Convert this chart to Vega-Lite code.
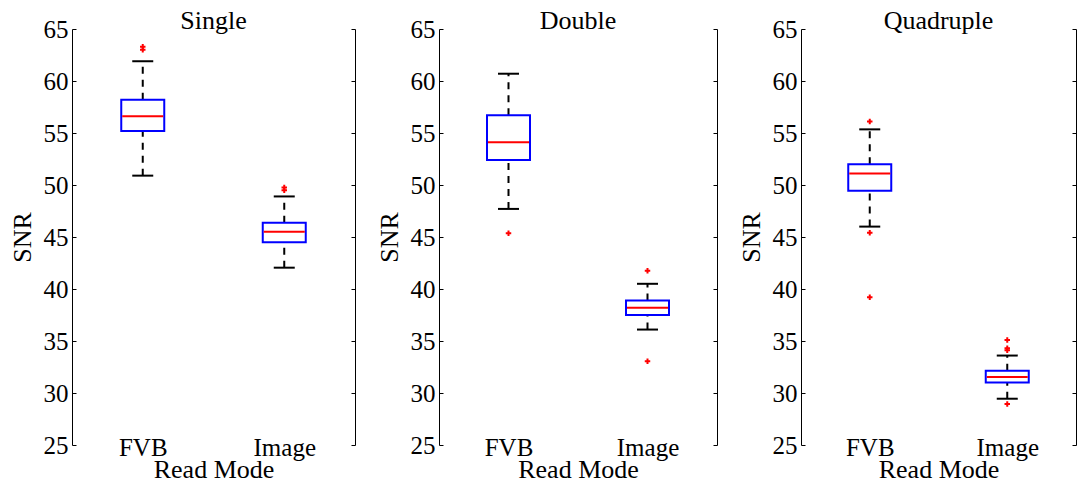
{
  "$schema": "https://vega.github.io/schema/vega-lite/v6.json",
  "background": "white",
  "padding": {"left": 9, "top": 8, "right": 2, "bottom": 0},
  "bounds": "flush",
  "spacing": 84,
  "config": {
    "view": {"stroke": null},
    "font": "Liberation Serif",
    "style": {
      "guide-label": {"font": "Liberation Serif", "fontSize": 25, "fill": "black"},
      "guide-title": {"font": "Liberation Serif", "fontSize": 26, "fontWeight": "normal", "fill": "black"}
    },
    "axis": {
      "labelFont": "Liberation Serif",
      "titleFont": "Liberation Serif",
      "labelFontSize": 25,
      "titleFontSize": 26,
      "titleFontWeight": "normal",
      "labelColor": "black",
      "titleColor": "black",
      "domainColor": "black",
      "tickColor": "black",
      "grid": false
    },
    "title": {
      "font": "Liberation Serif",
      "fontSize": 26,
      "fontWeight": "normal",
      "color": "black",
      "baseline": "alphabetic",
      "offset": -17
    }
  },
  "datasets": {
    "snr": [
      {"panel": "Single", "mode": "FVB", "lo": 50.9, "q1": 55.2, "med": 56.6, "q3": 58.2, "hi": 61.9},
      {"panel": "Single", "mode": "Image", "lo": 42.05, "q1": 44.5, "med": 45.5, "q3": 46.36, "hi": 48.9},
      {"panel": "Double", "mode": "FVB", "lo": 47.7, "q1": 52.4, "med": 54.1, "q3": 56.7, "hi": 60.7},
      {"panel": "Double", "mode": "Image", "lo": 36.1, "q1": 37.5, "med": 38.2, "q3": 38.9, "hi": 40.5},
      {"panel": "Quadruple", "mode": "FVB", "lo": 46.0, "q1": 49.45, "med": 51.1, "q3": 52.0, "hi": 55.35},
      {"panel": "Quadruple", "mode": "Image", "lo": 29.45, "q1": 31.0, "med": 31.55, "q3": 32.15, "hi": 33.6},
      {"panel": "Single", "mode": "FVB", "out": 63.3},
      {"panel": "Single", "mode": "FVB", "out": 63.0},
      {"panel": "Single", "mode": "Image", "out": 49.75},
      {"panel": "Single", "mode": "Image", "out": 49.5},
      {"panel": "Double", "mode": "FVB", "out": 45.35},
      {"panel": "Double", "mode": "Image", "out": 41.75},
      {"panel": "Double", "mode": "Image", "out": 33.05},
      {"panel": "Quadruple", "mode": "FVB", "out": 56.1},
      {"panel": "Quadruple", "mode": "FVB", "out": 45.4},
      {"panel": "Quadruple", "mode": "FVB", "out": 39.2},
      {"panel": "Quadruple", "mode": "Image", "out": 35.1},
      {"panel": "Quadruple", "mode": "Image", "out": 34.3},
      {"panel": "Quadruple", "mode": "Image", "out": 34.1},
      {"panel": "Quadruple", "mode": "Image", "out": 28.95}
    ]
  },
  "hconcat": [
    {
      "title": "Single",
      "width": 283,
      "height": 416,
      "data": {"name": "snr"},
      "transform": [{"filter": "datum.panel === 'Single'"}],
      "encoding": {
        "x": {"field": "mode", "type": "nominal", "scale": {"type": "point", "padding": 0.5, "domain": ["FVB", "Image"]},
              "axis": {"orient": "bottom", "domain": false, "ticks": false, "labelAngle": 0, "labelPadding": -10, "titlePadding": -4, "title": "Read Mode", "labelFont": "Liberation Serif", "labelFontSize": 25}}
      },
      "layer": [
        {"transform": [{"filter": {"field": "q1", "valid": true}}], "mark": {"type": "rule", "color": "black", "strokeWidth": 2, "strokeDash": [7, 6], "opacity": 1},
         "encoding": {"y": {"field": "lo", "type": "quantitative", "scale": {"domain": [25, 65], "nice": false, "zero": false},
                            "axis": {"orient": "left", "title": "SNR", "values": [25, 30, 35, 40, 45, 50, 55, 60, 65], "tickSize": -4, "labelPadding": 8, "titlePadding": 8, "labelFont": "Liberation Serif", "labelFontSize": 25}},
                      "y2": {"field": "q1"}}},
        {"transform": [{"filter": {"field": "q1", "valid": true}}], "mark": {"type": "rule", "color": "black", "strokeWidth": 2, "strokeDash": [7, 6], "opacity": 1},
         "encoding": {"y": {"field": "q3", "type": "quantitative", "axis": null}, "y2": {"field": "hi"}}},
        {"transform": [{"filter": {"field": "q1", "valid": true}}], "mark": {"type": "tick", "color": "black", "thickness": 2, "size": 21, "opacity": 1},
         "encoding": {"y": {"field": "lo", "type": "quantitative", "axis": null}}},
        {"transform": [{"filter": {"field": "q1", "valid": true}}], "mark": {"type": "tick", "color": "black", "thickness": 2, "size": 21, "opacity": 1},
         "encoding": {"y": {"field": "hi", "type": "quantitative", "axis": null}}},
        {"transform": [{"filter": {"field": "q1", "valid": true}}], "mark": {"type": "bar", "width": 43, "fillOpacity": 0, "stroke": "#0000ff", "strokeWidth": 2, "strokeOpacity": 1},
         "encoding": {"y": {"field": "q1", "type": "quantitative", "axis": null}, "y2": {"field": "q3"}}},
        {"transform": [{"filter": {"field": "q1", "valid": true}}], "mark": {"type": "tick", "color": "#ff0000", "thickness": 2, "size": 41, "opacity": 1},
         "encoding": {"y": {"field": "med", "type": "quantitative",
                            "axis": {"orient": "right", "title": null, "labels": false, "values": [25, 30, 35, 40, 45, 50, 55, 60, 65], "tickSize": -4}}}},
        {"transform": [{"filter": {"field": "out", "valid": true}}], "mark": {"type": "point", "shape": "M-1,0L1,0M0,-1L0,1", "filled": false, "color": "#ff0000", "strokeWidth": 2, "size": 30, "opacity": 1},
         "encoding": {"y": {"field": "out", "type": "quantitative", "axis": null}}}
      ]
    },
    {
      "title": "Double",
      "width": 278,
      "height": 416,
      "data": {"name": "snr"},
      "transform": [{"filter": "datum.panel === 'Double'"}],
      "encoding": {
        "x": {"field": "mode", "type": "nominal", "scale": {"type": "point", "padding": 0.5, "domain": ["FVB", "Image"]},
              "axis": {"orient": "bottom", "domain": false, "ticks": false, "labelAngle": 0, "labelPadding": -10, "titlePadding": -4, "title": "Read Mode", "labelFont": "Liberation Serif", "labelFontSize": 25}}
      },
      "layer": [
        {"transform": [{"filter": {"field": "q1", "valid": true}}], "mark": {"type": "rule", "color": "black", "strokeWidth": 2, "strokeDash": [7, 6], "opacity": 1},
         "encoding": {"y": {"field": "lo", "type": "quantitative", "scale": {"domain": [25, 65], "nice": false, "zero": false},
                            "axis": {"orient": "left", "title": "SNR", "values": [25, 30, 35, 40, 45, 50, 55, 60, 65], "tickSize": -4, "labelPadding": 8, "titlePadding": 8, "labelFont": "Liberation Serif", "labelFontSize": 25}},
                      "y2": {"field": "q1"}}},
        {"transform": [{"filter": {"field": "q1", "valid": true}}], "mark": {"type": "rule", "color": "black", "strokeWidth": 2, "strokeDash": [7, 6], "opacity": 1},
         "encoding": {"y": {"field": "q3", "type": "quantitative", "axis": null}, "y2": {"field": "hi"}}},
        {"transform": [{"filter": {"field": "q1", "valid": true}}], "mark": {"type": "tick", "color": "black", "thickness": 2, "size": 21, "opacity": 1},
         "encoding": {"y": {"field": "lo", "type": "quantitative", "axis": null}}},
        {"transform": [{"filter": {"field": "q1", "valid": true}}], "mark": {"type": "tick", "color": "black", "thickness": 2, "size": 21, "opacity": 1},
         "encoding": {"y": {"field": "hi", "type": "quantitative", "axis": null}}},
        {"transform": [{"filter": {"field": "q1", "valid": true}}], "mark": {"type": "bar", "width": 43, "fillOpacity": 0, "stroke": "#0000ff", "strokeWidth": 2, "strokeOpacity": 1},
         "encoding": {"y": {"field": "q1", "type": "quantitative", "axis": null}, "y2": {"field": "q3"}}},
        {"transform": [{"filter": {"field": "q1", "valid": true}}], "mark": {"type": "tick", "color": "#ff0000", "thickness": 2, "size": 41, "opacity": 1},
         "encoding": {"y": {"field": "med", "type": "quantitative",
                            "axis": {"orient": "right", "title": null, "labels": false, "values": [25, 30, 35, 40, 45, 50, 55, 60, 65], "tickSize": -4}}}},
        {"transform": [{"filter": {"field": "out", "valid": true}}], "mark": {"type": "point", "shape": "M-1,0L1,0M0,-1L0,1", "filled": false, "color": "#ff0000", "strokeWidth": 2, "size": 30, "opacity": 1},
         "encoding": {"y": {"field": "out", "type": "quantitative", "axis": null}}}
      ]
    },
    {
      "title": "Quadruple",
      "width": 275,
      "height": 416,
      "data": {"name": "snr"},
      "transform": [{"filter": "datum.panel === 'Quadruple'"}],
      "encoding": {
        "x": {"field": "mode", "type": "nominal", "scale": {"type": "point", "padding": 0.5, "domain": ["FVB", "Image"]},
              "axis": {"orient": "bottom", "domain": false, "ticks": false, "labelAngle": 0, "labelPadding": -10, "titlePadding": -4, "title": "Read Mode", "labelFont": "Liberation Serif", "labelFontSize": 25}}
      },
      "layer": [
        {"transform": [{"filter": {"field": "q1", "valid": true}}], "mark": {"type": "rule", "color": "black", "strokeWidth": 2, "strokeDash": [7, 6], "opacity": 1},
         "encoding": {"y": {"field": "lo", "type": "quantitative", "scale": {"domain": [25, 65], "nice": false, "zero": false},
                            "axis": {"orient": "left", "title": "SNR", "values": [25, 30, 35, 40, 45, 50, 55, 60, 65], "tickSize": -4, "labelPadding": 8, "titlePadding": 8, "labelFont": "Liberation Serif", "labelFontSize": 25}},
                      "y2": {"field": "q1"}}},
        {"transform": [{"filter": {"field": "q1", "valid": true}}], "mark": {"type": "rule", "color": "black", "strokeWidth": 2, "strokeDash": [7, 6], "opacity": 1},
         "encoding": {"y": {"field": "q3", "type": "quantitative", "axis": null}, "y2": {"field": "hi"}}},
        {"transform": [{"filter": {"field": "q1", "valid": true}}], "mark": {"type": "tick", "color": "black", "thickness": 2, "size": 21, "opacity": 1},
         "encoding": {"y": {"field": "lo", "type": "quantitative", "axis": null}}},
        {"transform": [{"filter": {"field": "q1", "valid": true}}], "mark": {"type": "tick", "color": "black", "thickness": 2, "size": 21, "opacity": 1},
         "encoding": {"y": {"field": "hi", "type": "quantitative", "axis": null}}},
        {"transform": [{"filter": {"field": "q1", "valid": true}}], "mark": {"type": "bar", "width": 43, "fillOpacity": 0, "stroke": "#0000ff", "strokeWidth": 2, "strokeOpacity": 1},
         "encoding": {"y": {"field": "q1", "type": "quantitative", "axis": null}, "y2": {"field": "q3"}}},
        {"transform": [{"filter": {"field": "q1", "valid": true}}], "mark": {"type": "tick", "color": "#ff0000", "thickness": 2, "size": 41, "opacity": 1},
         "encoding": {"y": {"field": "med", "type": "quantitative",
                            "axis": {"orient": "right", "title": null, "labels": false, "values": [25, 30, 35, 40, 45, 50, 55, 60, 65], "tickSize": -4}}}},
        {"transform": [{"filter": {"field": "out", "valid": true}}], "mark": {"type": "point", "shape": "M-1,0L1,0M0,-1L0,1", "filled": false, "color": "#ff0000", "strokeWidth": 2, "size": 30, "opacity": 1},
         "encoding": {"y": {"field": "out", "type": "quantitative", "axis": null}}}
      ]
    }
  ]
}
